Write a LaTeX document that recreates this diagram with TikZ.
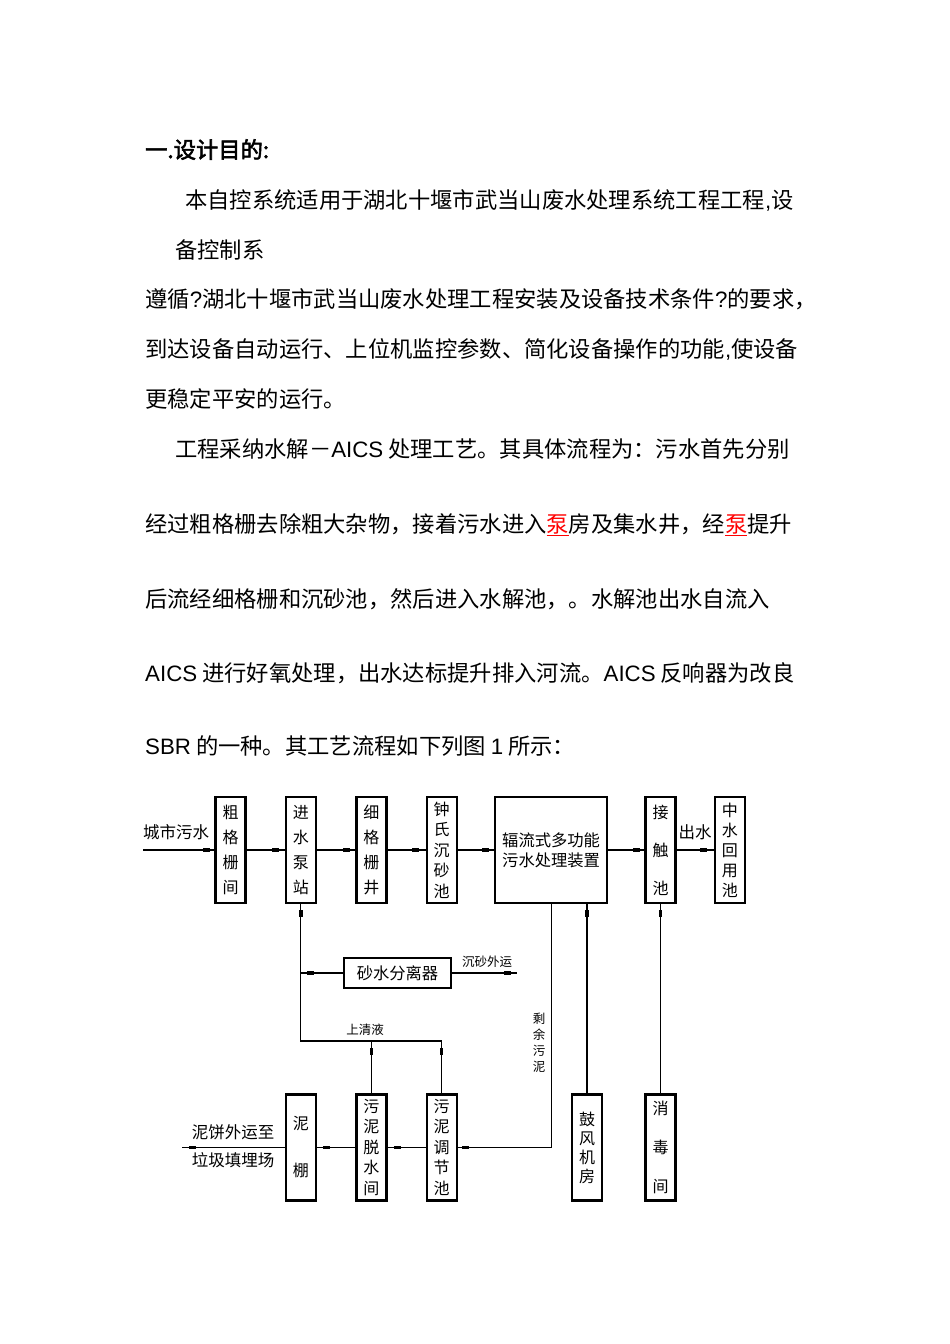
\documentclass[tikz,border=0pt]{standalone}
\usepackage{fontspec}
\setmainfont{Liberation Sans}
\newfontfamily\cjk{Noto Sans CJK SC}
\newfontfamily\cjkbold{Noto Sans CJK SC}[FakeBold=2.5]
\usetikzlibrary{positioning}

\newcommand{\lat}[1]{{\rmfamily #1}}
\newcommand{\bodyfont}{\cjk\fontsize{22.3}{26}\selectfont}
\newcommand{\pump}{{\color{red}\underline{泵}}}

\begin{document}
\begin{tikzpicture}[x=1pt, y=-1pt,
  body/.style={anchor=base west, inner sep=0, font=\bodyfont},
  tank/.style={draw, line width=2.4pt, minimum width=30, minimum height=106, inner sep=0, align=center, font=\cjk\fontsize{16}{#1}\selectfont},
  tank/.default=25,
  unit/.style={draw, line width=2.4pt, inner sep=0, align=center, font=\cjk\fontsize{16.3}{20}\selectfont},
  valve/.style={fill, inner sep=0, minimum width=7, minimum height=3.5, sloped, pos=0.76},
  lbl/.style={inner sep=0, align=center, font=\cjk\fontsize{16.5}{28}\selectfont},
  small/.style={inner sep=0, align=center, font=\cjk\fontsize{12.5}{16}\selectfont},
  pipe/.style={line width=1.1pt}]

  \useasboundingbox (0,0) rectangle (950,1344);

  % Text
  \node[body, font=\cjkbold\fontsize{22.3}{26}\selectfont] (t0) at (145,158) {一.设计目的:};
  \node[body] (t1) at (185,208) {本自控系统适用于湖北十堰市武当山废水处理系统工程工程\lat{,}设};
  \node[body] (t2) at (175,258) {备控制系};
  \node[body] (t3) at (145,307) {遵循\lat{?}湖北十堰市武当山废水处理工程安装及设备技术条件\lat{?}的要求，};
  \node[body] (t4) at (145,357) {到达设备自动运行、上位机监控参数、简化设备操作的功能\lat{,}使设备};
  \node[body] (t5) at (145,407) {更稳定平安的运行。};
  \node[body] (t6) at (175,457) {工程采纳水解－\lat{AICS} 处理工艺。其具体流程为：污水首先分别};
  \node[body] (t7) at (145,532) {经过粗格栅去除粗大杂物，接着污水进入\pump 房及集水井，经\pump 提升};
  \node[body] (t8) at (145,607) {后流经细格栅和沉砂池，然后进入水解池，。水解池出水自流入};
  \node[body] (t9) at (145,681) {\lat{AICS} 进行好氧处理，出水达标提升排入河流。\lat{AICS} 反响器为改良};
  \node[body] (t10) at (145,754) {\lat{SBR} 的一种。其工艺流程如下列图 \lat{1} 所示：};

  % Main line
  \node[tank] (cg) at (230.5,850) {粗\\格\\栅\\间};
  \node[tank, right=38pt of cg] (js) {进\\水\\泵\\站};
  \node[tank, right=38pt of js] (xg) {细\\格\\栅\\井};
  \node[tank=20.5, right=38pt of xg] (zs) {钟\\氏\\沉\\砂\\池};
  \node[unit, minimum width=112, minimum height=106, right=36pt of zs] (fl) {辐流式多功能\\污水处理装置};
  \node[tank=38, right=36pt of fl] (jc) {接\\触\\池};
  \node[tank=20, right=37pt of jc] (zy) {中\\水\\回\\用\\池};

  % Sludge line
  \node[tank=47, below=189pt of js] (nb) {泥\\棚};
  \node[tank=20.5, below=189pt of xg] (tsw) {污\\泥\\脱\\水\\间};
  \node[tank=20.5, below=189pt of zs] (tjc) {污\\泥\\调\\节\\池};
  \node[tank=19] (gf) at (587,1147.4) {鼓\\风\\机\\房};
  \node[tank=39, below=189pt of jc] (xd) {消\\毒\\间};
  \node[unit, minimum width=107, minimum height=30] (sf) at (397.5,973) {砂水分离器};

  % Labels
  \node[lbl] (cs) at (176,832) {城市污水};
  \node[lbl] (cw) at (695,832) {出水};
  \node[small] (cswy) at (487,962) {沉砂外运};
  \node[small] (sqy) at (365,1030) {上清液};
  \node[small] (sywn) at (539,1043) {剩\\余\\污\\泥};
  \node[lbl] (nbwy) at (233,1146) {泥饼外运至\\垃圾填埋场};

  \coordinate (src) at (143,850);
  \coordinate (qy) at (js.south |- 0,1041);

  % Edges
  \draw[pipe] (src) -- node[valve, pos=0.89]{} (cg);
  \draw[pipe] (cg) -- node[valve]{} (js);
  \draw[pipe] (js) -- node[valve, pos=0.78]{} (xg);
  \draw[pipe] (xg) -- node[valve, pos=0.74]{} (zs);
  \draw[pipe] (zs) -- node[valve, pos=0.78]{} (fl);
  \draw[pipe] (fl) -- node[valve, pos=0.78]{} (jc);
  \draw[pipe] (jc) -- node[valve, pos=0.73]{} (zy);
  \draw[pipe] (sf.west) -| node[valve, pos=0.39]{} node[valve, pos=0.935]{} (js.south);
  \draw[pipe] (sf) -- node[valve, pos=0.86]{} (sf.east -| 517,0);
  \draw[pipe] (tsw) -- node[valve, pos=0.79]{} (tsw |- qy);
  \draw[pipe] (tjc) -- node[valve, pos=0.79]{} (tjc |- qy) -- (qy) -- (qy |- sf.west);
  \draw[pipe] (fl.south) |- node[valve, pos=0.957]{} (tjc.east);
  \draw[pipe] (gf) -- node[valve, pos=0.95]{} (gf |- fl.south);
  \draw[pipe] (xd) -- node[valve, pos=0.95]{} (jc);
  \draw[pipe] (tjc) -- node[valve, pos=0.74]{} (tsw);
  \draw[pipe] (tsw) -- node[valve]{} (nb);
  \draw[pipe] (nb) -- node[valve, pos=0.9]{} (nb.west -| 182,0);

\end{tikzpicture}
\end{document}
